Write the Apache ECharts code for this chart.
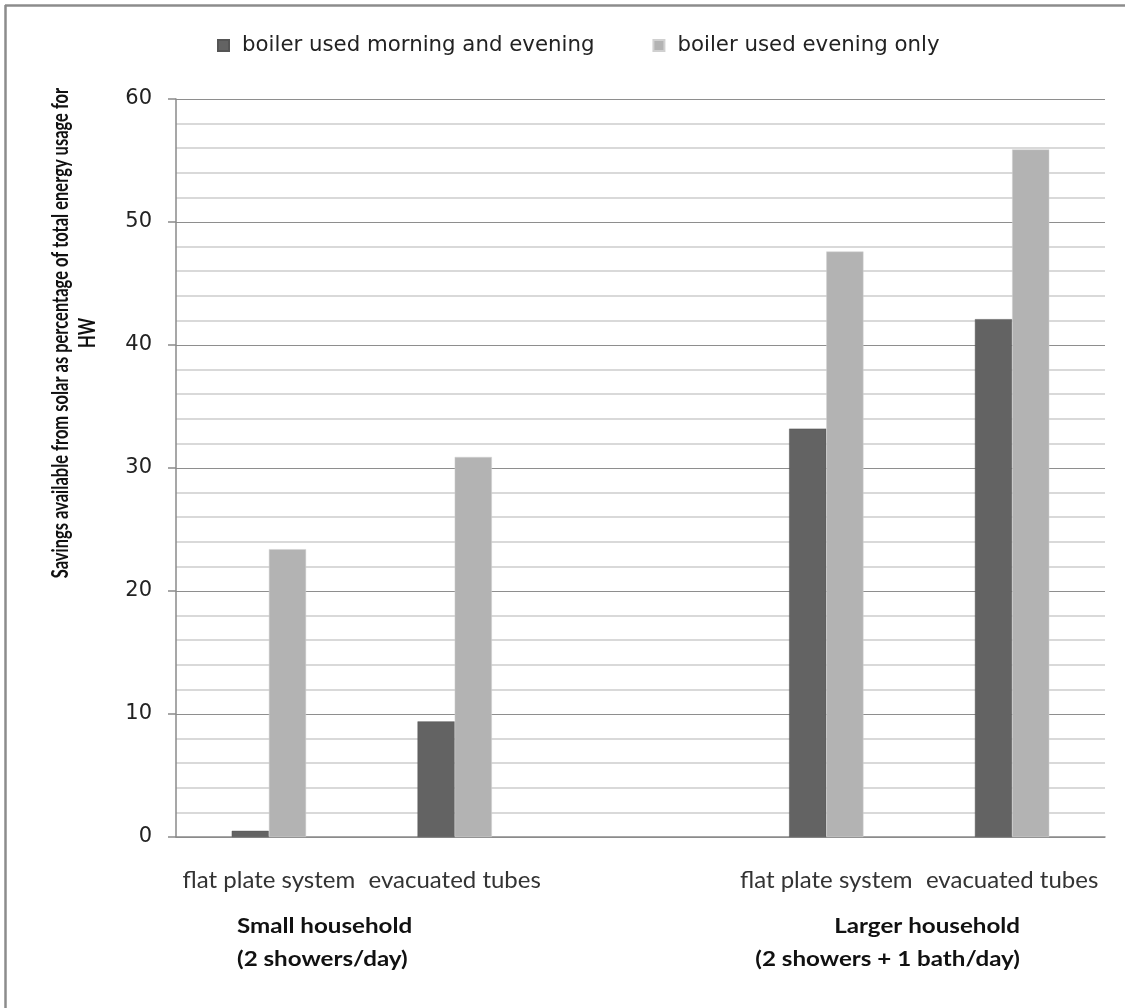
<!DOCTYPE html>
<html>
<head>
<meta charset="utf-8">
<script src="https://cdn.jsdelivr.net/npm/echarts@6/dist/echarts.min.js"></script>
<style>
html,body{margin:0;padding:0;background:#fff;}
#chart{width:1125px;height:1008px;}
</style>
</head>
<body>
<div id="chart"></div>
<script>
const categories = ['flat plate system', 'evacuated tubes', '', 'flat plate system', 'evacuated tubes'];
const seriesNames = ['boiler used morning and evening', 'boiler used evening only'];
const morningEvening = [0.5, 9.4, null, 33.2, 42.1];
const eveningOnly = [23.4, 30.9, null, 47.6, 55.9];
const yTitleLines = ['Savings available from solar as percentage of total energy usage for', 'HW'];
const groupLabels = [['Small household', '(2 showers/day)'], ['Larger household', '(2 showers + 1 bath/day)']];

const chart = echarts.init(document.getElementById('chart'));
const font = 'Lato, "Liberation Sans", sans-serif';
chart.setOption({
  animation: false,
  backgroundColor: '#fff',
  legend: {
    left: 217, top: 35, padding: 0,
    itemWidth: 11, itemHeight: 11, itemGap: 58,
    icon: 'rect',
    textStyle: { fontFamily: '"DejaVu Sans", sans-serif', fontSize: 21.3, color: '#222', padding: [0, 0, 0, 8] },
    data: seriesNames
  },
  grid: { left: 176, right: 20, top: 99, bottom: 171, containLabel: false },
  xAxis: {
    type: 'category',
    data: categories,
    axisLine: { show: true, lineStyle: { color: '#8a8a8a', width: 1.5 } },
    axisTick: { show: false },
    axisLabel: { fontFamily: font, fontSize: 24, color: '#333', margin: 31, interval: 0 }
  },
  yAxis: {
    type: 'value',
    min: 0, max: 60, interval: 10,
    axisLine: { show: true, lineStyle: { color: '#8a8a8a', width: 1.5 } },
    axisTick: { show: true, length: 8, lineStyle: { color: '#8a8a8a', width: 1.5 } },
    minorTick: { show: false, splitNumber: 5 },
    minorSplitLine: { show: true, lineStyle: { color: '#cdcdcd', width: 1.5 } },
    splitLine: { show: true, lineStyle: { color: '#8e8e8e', width: 1.2 } },
    axisLabel: { fontFamily: '"DejaVu Sans", sans-serif', fontSize: 21, color: '#222', margin: 24 }
  },
  series: [
    { name: seriesNames[0], type: 'bar', data: morningEvening, barGap: '0%', barCategoryGap: '60%',
      itemStyle: { color: '#636363', borderColor: '#555', borderWidth: 0.5 } },
    { name: seriesNames[1], type: 'bar', data: eveningOnly, barGap: '0%', barCategoryGap: '60%',
      itemStyle: { color: '#b3b3b3', borderColor: '#d0d0d0', borderWidth: 0.5 } }
  ],
  graphic: [
    { type: 'line', shape: { x1: 5.5, y1: 5, x2: 5.5, y2: 1008 }, style: { stroke: '#8c8c8c', lineWidth: 2.5 } },
    { type: 'line', shape: { x1: 5, y1: 5.5, x2: 1125, y2: 5.5 }, style: { stroke: '#8c8c8c', lineWidth: 2.5 } },
    { type: 'text', x: 74, y: 333, rotation: Math.PI / 2, scaleY: 1.42,
      style: { text: yTitleLines.join('\n'), font: 'bold 16.5px ' + font, fill: '#111',
               textAlign: 'center', textVerticalAlign: 'middle', lineHeight: 19.5 } },
    { type: 'text', x: 237, y: 943, scaleX: 1.15,
      style: { text: groupLabels[0].join('\n'), font: 'bold 21px ' + font, fill: '#111',
               textAlign: 'left', textVerticalAlign: 'middle', lineHeight: 33 } },
    { type: 'text', x: 1020, y: 943, scaleX: 1.15,
      style: { text: groupLabels[1].join('\n'), font: 'bold 21px ' + font, fill: '#111',
               textAlign: 'right', textVerticalAlign: 'middle', lineHeight: 33 } }
  ]
});
</script>
</body>
</html>
